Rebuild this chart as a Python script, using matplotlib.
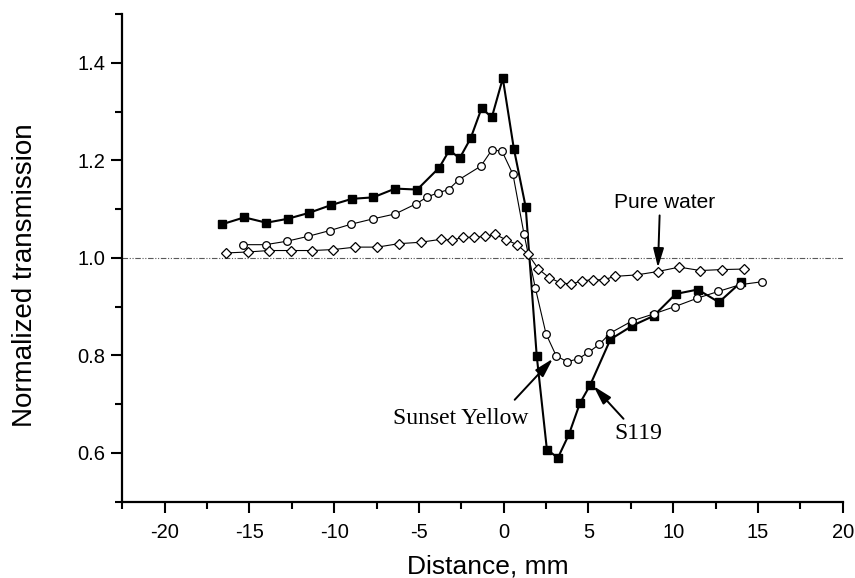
import matplotlib
matplotlib.use("Agg")
import matplotlib.pyplot as plt
from matplotlib.ticker import MultipleLocator

plt.rcParams['font.family'] = ['Liberation Sans', 'DejaVu Sans']
plt.rcParams['axes.unicode_minus'] = False

# S119 (filled squares)
s119_x = [-16.6, -15.3, -14.0, -12.75, -11.5, -10.2, -8.95, -7.7, -6.4, -5.1,
          -3.8, -3.2, -2.6, -1.95, -1.3, -0.7, -0.05, 0.6, 1.3, 1.95, 2.55,
          3.2, 3.85, 4.5, 5.1, 6.3, 7.6, 8.85, 10.15, 11.45, 12.7, 14.0]
s119_y = [1.069, 1.083, 1.072, 1.080, 1.092, 1.108, 1.121, 1.124, 1.142, 1.140,
          1.185, 1.221, 1.204, 1.245, 1.307, 1.288, 1.368, 1.224, 1.104, 0.799,
          0.607, 0.590, 0.638, 0.702, 0.739, 0.833, 0.861, 0.881, 0.926, 0.935,
          0.909, 0.950]

# Sunset Yellow (open circles)
sy_x = [-15.35, -14.05, -12.8, -11.55, -10.25, -9.0, -7.7, -6.4, -5.15, -4.5,
        -3.9, -3.25, -2.65, -1.35, -0.7, -0.1, 0.55, 1.2, 1.87, 2.5, 3.1, 3.75,
        4.4, 5.0, 5.65, 6.3, 7.6, 8.85, 10.1, 11.4, 12.65, 13.95, 15.25]
sy_y = [1.027, 1.027, 1.034, 1.044, 1.056, 1.069, 1.080, 1.090, 1.111, 1.125,
        1.133, 1.140, 1.160, 1.188, 1.221, 1.219, 1.171, 1.049, 0.938, 0.844,
        0.799, 0.787, 0.793, 0.806, 0.823, 0.846, 0.871, 0.885, 0.900, 0.917,
        0.931, 0.945, 0.951]

# Pure water (open diamonds)
pw_x = [-16.4, -15.1, -13.85, -12.55, -11.3, -10.05, -8.75, -7.45, -6.2, -4.9,
        -3.7, -3.05, -2.4, -1.75, -1.1, -0.5, 0.15, 0.8, 1.45, 2.05, 2.7, 3.35,
        4.0, 4.6, 5.25, 5.9, 6.55, 7.85, 9.1, 10.35, 11.6, 12.9, 14.15]
pw_y = [1.010, 1.012, 1.015, 1.015, 1.015, 1.017, 1.022, 1.022, 1.029, 1.032,
        1.038, 1.036, 1.042, 1.042, 1.044, 1.048, 1.037, 1.027, 1.007, 0.977,
        0.959, 0.949, 0.946, 0.953, 0.955, 0.955, 0.962, 0.965, 0.972, 0.981,
        0.974, 0.976, 0.977]

fig = plt.figure(figsize=(8.55, 5.78), dpi=100)
ax = fig.add_axes([0.143, 0.132, 0.8426, 0.8438])

# reference level
ax.axhline(1.0, color='0.35', lw=0.8, ls=(0, (5, 1.5, 1, 1.5, 1, 1.5)), zorder=1)

ax.plot(s119_x, s119_y, '-', color='k', lw=1.5, marker='s', ms=5.5,
        mfc='k', mec='k', zorder=3)
ax.plot(sy_x, sy_y, '-', color='k', lw=0.8, marker='o', ms=5.5,
        mfc='white', mec='k', mew=0.9, zorder=4)
ax.plot(pw_x, pw_y, '-', color='k', lw=0.8, marker='D', ms=5,
        mfc='white', mec='k', mew=0.9, zorder=4)

ax.set_xlim(-22.5, 20)
ax.set_ylim(0.5, 1.5)
ax.xaxis.set_major_locator(MultipleLocator(5))
ax.xaxis.set_minor_locator(MultipleLocator(2.5))
ax.set_yticks([0.6, 0.8, 1.0, 1.2, 1.4])
ax.yaxis.set_minor_locator(MultipleLocator(0.1))

for s in ['top', 'right']:
    ax.spines[s].set_visible(False)
for s in ['left', 'bottom']:
    ax.spines[s].set_linewidth(1.6)

ax.tick_params(which='major', length=8, width=1.5, labelsize=14.5)
ax.tick_params(which='minor', length=5, width=1.5)
ax.tick_params(axis='x', which='major', pad=7)
ax.tick_params(axis='y', which='major', pad=4)

ax.set_xlabel('Distance, mm', fontsize=19)
ax.set_ylabel('Normalized transmission', fontsize=20)
ax.xaxis.set_label_coords(0.508, -0.108)
ax.yaxis.set_label_coords(-0.117, 0.465)

arrow = dict(arrowstyle='-|>,head_length=0.72,head_width=0.2', color='k',
             lw=1.4, mutation_scale=16, shrinkA=0, shrinkB=0)

ax.annotate('', xy=(9.1, 0.98), xytext=(9.2, 1.087), arrowprops=arrow)
ax.text(9.5, 1.114, 'Pure water', fontsize=15, ha='center', va='center')

ax.annotate('', xy=(2.9, 0.793), xytext=(0.65, 0.709), arrowprops=arrow)
ax.text(-2.55, 0.670, 'Sunset Yellow', fontsize=17, ha='center', va='center',
        family=['Liberation Serif', 'DejaVu Serif'])

ax.annotate('', xy=(5.3, 0.737), xytext=(7.07, 0.670), arrowprops=arrow)
ax.text(7.96, 0.640, 'S119', fontsize=17, ha='center', va='center',
        family=['Liberation Serif', 'DejaVu Serif'])

fig.savefig('out.png', dpi=100)
